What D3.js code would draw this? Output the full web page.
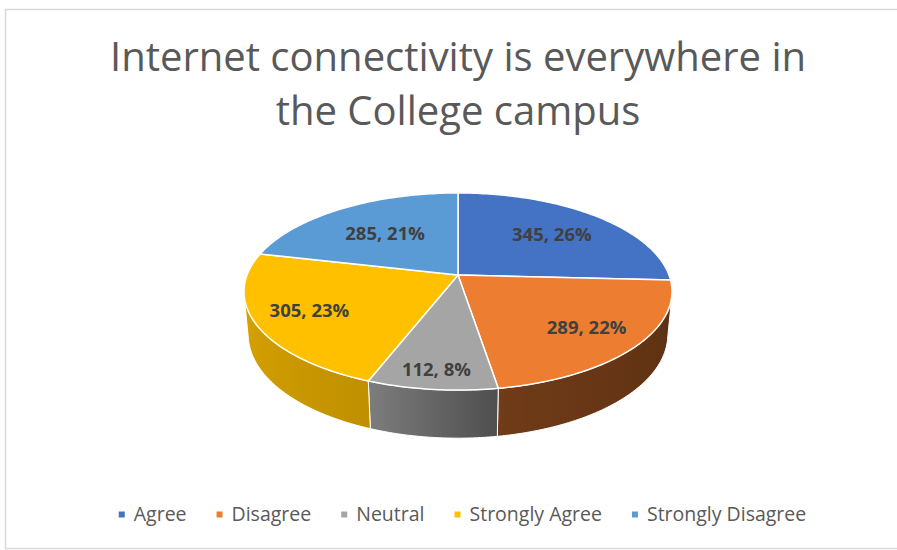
<!DOCTYPE html>
<html lang="en">
<head>
    <meta charset="UTF-8">
    <script src="https://cdnjs.cloudflare.com/ajax/libs/d3/7.8.5/d3.min.js"></script>
    <style>
        body { margin: 0; background: #fff; }
        text { font-family: "Open Sans", sans-serif; }
    </style>
</head>
<body>
<svg id="chart" width="897" height="550"></svg>
<script>
    const categories = ['Agree', 'Disagree', 'Neutral', 'Strongly Agree', 'Strongly Disagree'];
    const values = [345, 289, 112, 305, 285];
    const colors = ['#4472c4', '#ed7d31', '#a5a5a5', '#ffc000', '#5b9bd5'];
    const titleLines = ['Internet connectivity is everywhere in', 'the College campus'];

    // 3d look: centre, radius on screen, perspective, tilt, thickness
    const cx = 458, cy = 275, S = 211, k = 0.188, tilt = 27 * Math.PI / 180, thick = 0.23;
    const labelFrac = [0.66, 0.75, 0.85, 0.75, 0.6];

    const svg = d3.select('#chart');
    const total = d3.sum(values);

    svg.append('rect')
        .attr('x', 5.5).attr('y', 9.5).attr('width', 900).attr('height', 539)
        .attr('fill', '#fff').attr('stroke', '#d9d9d9').attr('stroke-width', 1.5);

    // theta: 0 = far side (top), clockwise; r: fraction of radius; v: height
    function proj(theta, r, v) {
        const u = r * Math.sin(theta), w = r * Math.cos(theta);
        const zn = 1 + k * (-v * Math.sin(tilt) + w * Math.cos(tilt));
        return [cx + S * u / zn, cy - S * (v * Math.cos(tilt) + w * Math.sin(tilt)) / zn];
    }

    function arcPts(a0, a1, v) {
        const n = Math.max(2, Math.ceil(Math.abs(a1 - a0) / (Math.PI / 180)));
        return d3.range(n + 1).map(i => proj(a0 + (a1 - a0) * i / n, 1, v));
    }

    const pie = d3.pie().sort(null).value(d => d)(values);
    const line = d3.line();

    // visible range of the outer wall
    const lim = Math.acos(-k / Math.cos(tilt));
    const visA = lim, visB = 2 * Math.PI - lim;
    const shade = d3.scaleLinear()
        .domain([102, 170, 200, 258].map(d => d * Math.PI / 180))
        .range([0.38, 0.47, 0.75, 0.85]).clamp(true);

    const defs = svg.append('defs');
    const walls = svg.append('g');

    pie.forEach((p, i) => {
        const a0 = Math.max(p.startAngle, visA), a1 = Math.min(p.endAngle, visB);
        if (a1 <= a0) return;
        const top = arcPts(a0, a1, 0);
        const bot = arcPts(a1, a0, -thick);
        const base = d3.rgb(colors[i]);
        const x0 = proj(a0, 1, 0)[0], x1 = proj(a1, 1, 0)[0];
        const g = defs.append('linearGradient')
            .attr('id', 'wall' + i).attr('gradientUnits', 'userSpaceOnUse')
            .attr('x1', x0).attr('x2', x1).attr('y1', 0).attr('y2', 0);
        d3.range(11).forEach(j => {
            const a = a0 + (a1 - a0) * j / 10;
            const f = shade(a);
            const x = proj(a, 1, 0)[0];
            g.append('stop')
                .attr('offset', (x - x0) / (x1 - x0))
                .attr('stop-color', d3.rgb(base.r * f, base.g * f, base.b * f));
        });
        walls.append('path')
            .attr('d', line(top.concat(bot)) + 'Z')
            .attr('fill', `url(#wall${i})`)
            .attr('stroke', '#fff').attr('stroke-width', 1).attr('stroke-linejoin', 'round');
    });

    svg.append('g').selectAll('path')
        .data(pie).enter()
        .append('path')
        .attr('d', d => line([[cx, cy]].concat(arcPts(d.startAngle, d.endAngle, 0))) + 'Z')
        .attr('fill', (d, i) => colors[i])
        .attr('stroke', '#fff').attr('stroke-width', 1.5).attr('stroke-linejoin', 'round');

    svg.append('g').selectAll('text')
        .data(pie).enter()
        .append('text')
        .attr('x', (d, i) => proj((d.startAngle + d.endAngle) / 2, labelFrac[i], 0)[0])
        .attr('y', (d, i) => proj((d.startAngle + d.endAngle) / 2, labelFrac[i], 0)[1])
        .attr('dy', '0.36em')
        .attr('text-anchor', 'middle')
        .style('font-size', '18.5px').style('font-weight', 'bold').style('fill', '#404040')
        .text(d => `${d.value}, ${Math.round(d.value / total * 100)}%`);

    svg.append('g').selectAll('text')
        .data(titleLines).enter()
        .append('text')
        .attr('x', cx).attr('y', (d, i) => 71 + i * 54)
        .attr('text-anchor', 'middle')
        .style('font-size', '40px').style('fill', '#595959')
        .text(d => d);

    // legend, centred
    const leg = svg.append('g');
    const items = leg.selectAll('g').data(categories).enter().append('g');
    items.append('rect')
        .attr('width', 6).attr('height', 6).attr('y', -3)
        .attr('fill', (d, i) => colors[i]);
    items.append('text')
        .attr('x', 15).attr('dy', '0.35em')
        .style('font-size', '19.5px').style('fill', '#595959')
        .text(d => d);
    let xpos = 0;
    const offs = [];
    items.each(function () {
        offs.push(xpos);
        xpos += 15 + d3.select(this).select('text').node().getComputedTextLength() + 30;
    });
    const legW = xpos - 30;
    items.attr('transform', (d, i) => `translate(${offs[i]},0)`);
    leg.attr('transform', `translate(${462.5 - legW / 2},514.5)`);
</script>
</body>
</html>
